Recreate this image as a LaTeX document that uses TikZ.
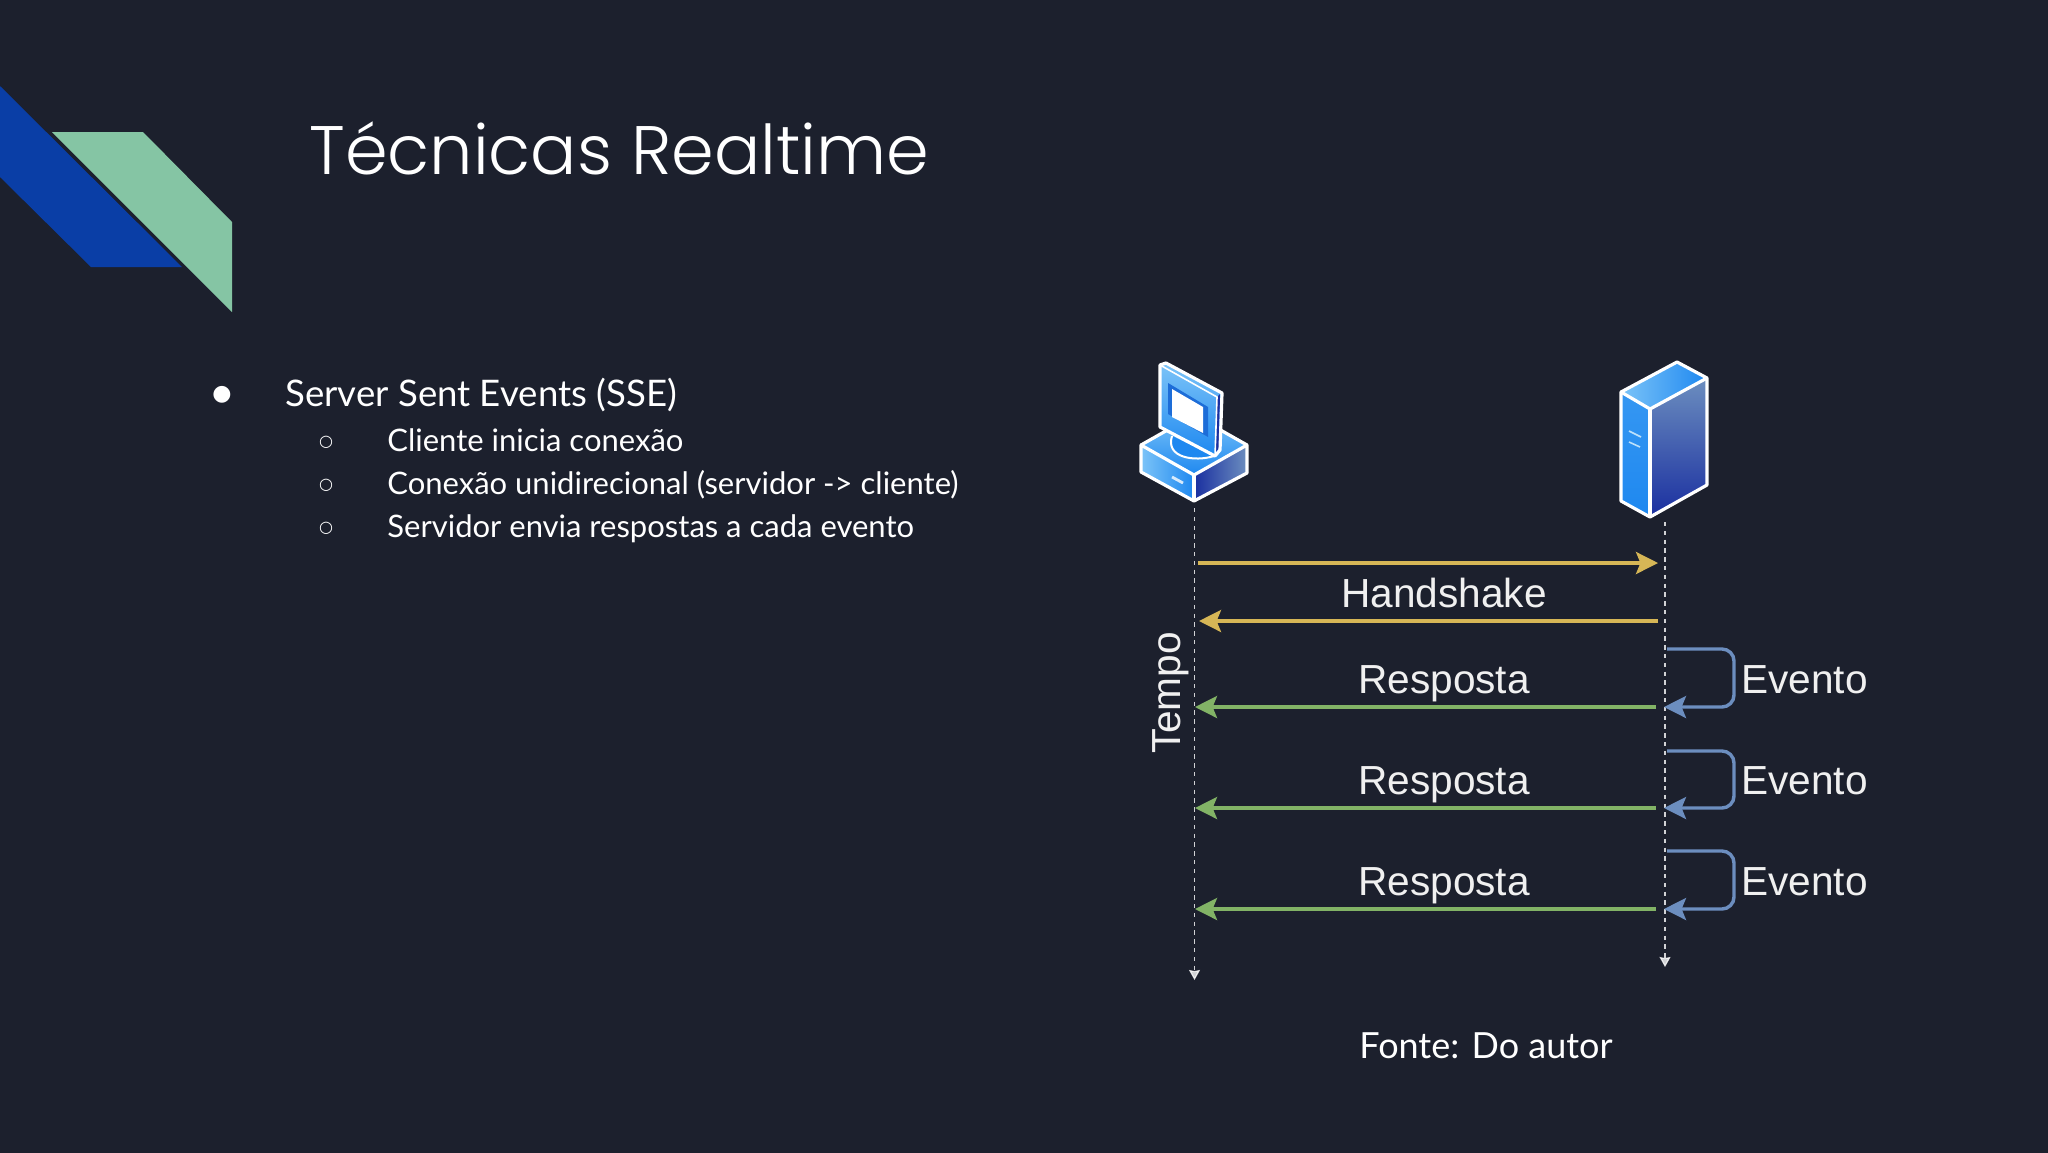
\documentclass[tikz,border=0pt]{standalone}
\usepackage{fontspec}
\setmainfont{Lato}
\newfontfamily\titlefont{Poppins Light}
\newfontfamily\diagfont{Liberation Sans}
\newfontfamily\symbfont{DejaVu Sans}
\usetikzlibrary{arrows.meta}
\definecolor{bgcol}{HTML}{1C202D}
\definecolor{ribbonblue}{HTML}{0A3EA6}
\definecolor{ribbongreen}{HTML}{85C5A4}
\definecolor{hsyellow}{HTML}{D6B656}
\definecolor{respgreen}{HTML}{82B366}
\definecolor{evblue}{HTML}{6C8EBF}
\definecolor{iconlight}{HTML}{7CC4F8}
\definecolor{iconmid}{HTML}{1E88F0}
\definecolor{icondark}{HTML}{1A2FA0}
\definecolor{labelcol}{HTML}{F0F0F0}
\tikzset{
  every node/.style={inner sep=0pt},
  headtext/.style={text=white,anchor=base west,font=\titlefont\fontsize{34.3}{34.3}\selectfont},
  bigtext/.style={text=white,anchor=base west,font=\fontsize{18.3}{18.3}\selectfont},
  subtext/.style={text=white,anchor=base west,font=\fontsize{15.5}{15.5}\selectfont},
  flowtext/.style={text=labelcol,anchor=base,font=\diagfont\fontsize{20.3}{20.3}\selectfont},
  lifeline/.style={white,opacity=0.8,line width=0.6pt,dash pattern=on 2.2pt off 2.2pt,-{Stealth[length=5pt,width=5.5pt,inset=0.5pt]}},
  hsline/.style={hsyellow,line width=1.7pt},
  respline/.style={respgreen,line width=1.7pt},
  evline/.style={evblue,line width=1.7pt,rounded corners=6pt},
  tipped/.style={-{Stealth[length=11pt,width=11pt,inset=2.2pt]}},
  iconedge/.style={draw=white,line width=1.6pt,line join=round}
}
\begin{document}
\begin{tikzpicture}[x=0.5pt,y=-0.5pt]
  \useasboundingbox (0,0) rectangle (2048,1152);
  \fill[bgcol] (-10,-10) rectangle (2058,1162);
  % ribbons
  \fill[ribbonblue] (0,86) -- (182,267) -- (91,267) -- (0,177) -- cycle;
  \fill[ribbongreen] (52,132) -- (143,132) -- (232,222) -- (232,312) -- cycle;
  % title
  \node[headtext] (title) at (309,174.5) {Técnicas Realtime};
  % bullets
  \node[anchor=center,text=white,font=\symbfont\fontsize{11}{11}\selectfont] (dota) at (222,395) {●};
  \node[bigtext] (sse) at (285,406) {Server Sent Events (SSE)};
  \node[anchor=center,text=white,font=\symbfont\fontsize{8}{8}\selectfont] (dotb) at (326,442) {○};
  \node[subtext] (cli) at (387,451.5) {Cliente inicia conexão};
  \node[anchor=center,text=white,font=\symbfont\fontsize{8}{8}\selectfont] (dotc) at (326,485) {○};
  \node[subtext] (con) at (387,494.5) {Conexão unidirecional (servidor -> cliente)};
  \node[anchor=center,text=white,font=\symbfont\fontsize{8}{8}\selectfont] (dotd) at (326,528) {○};
  \node[subtext] (srvtxt) at (387,537.5) {Servidor envia respostas a cada evento};
  % client icon, base
  \shade[top color=iconlight,bottom color=iconmid] (1141,445) -- (1194,415) -- (1247,445) -- (1194,475) -- cycle;
  \shade[left color=iconlight,right color=iconmid] (1141,445) -- (1194,475) -- (1194,501) -- (1141,472) -- cycle;
  \shade[left color=icondark,right color=evblue] (1194,475) -- (1247,445) -- (1247,473) -- (1194,501) -- cycle;
  \draw[iconedge] (1141,445) -- (1194,475) -- (1247,445) -- (1247,473) -- (1194,501) -- (1141,472) -- cycle;
  \draw[iconedge] (1194,475) -- (1194,501);
  \draw[iconedge] (1141,445) -- (1194,415) -- (1247,445);
  \draw[white,line width=1.4pt,opacity=0.8] (1172,477) -- (1183,483);
  % client icon, stand
  \fill[iconmid] (1172,436) .. controls (1165,458) and (1195,462) .. (1214,456) -- cycle;
  \draw[white,line width=1pt] (1172,436) .. controls (1165,458) and (1195,462) .. (1214,456);
  % client icon, monitor
  \shade[top color=iconlight,bottom color=iconmid] (1160,365) -- (1166,363) -- (1222,393) -- (1220,450) -- (1215,456) -- (1160,427) -- cycle;
  \fill[icondark] (1217,397) -- (1220,394) -- (1219,448) -- (1216,452) -- cycle;
  \draw[iconedge] (1160,365) -- (1166,363) -- (1222,393) -- (1220,450) -- (1215,456) -- (1160,427) -- cycle;
  \draw[white,line width=0.8pt] (1160,365) -- (1217,397) -- (1215,456);
  \fill[iconmid!70!icondark] (1168,383) -- (1208,407) -- (1208,437) -- (1168,414) -- cycle;
  \fill[white] (1172,389) -- (1203,407) -- (1203,433) -- (1172,417) -- cycle;
  % server icon
  \shade[left color=iconlight,right color=iconmid] (1621,392) -- (1677,362) -- (1707,378) -- (1650,409) -- cycle;
  \shade[top color=iconmid!75!iconlight,bottom color=iconmid] (1621,392) -- (1650,409) -- (1650,517) -- (1621,501) -- cycle;
  \shade[top color=evblue,bottom color=icondark] (1650,409) -- (1707,378) -- (1707,485) -- (1650,517) -- cycle;
  \draw[iconedge] (1621,392) -- (1677,362) -- (1707,378) -- (1707,485) -- (1650,517) -- (1621,501) -- cycle;
  \draw[iconedge] (1621,392) -- (1650,409) -- (1707,378);
  \draw[iconedge] (1650,409) -- (1650,517);
  \draw[iconlight!50!white,line width=0.8pt] (1629,431) -- (1641,437);
  \draw[iconlight!50!white,line width=0.8pt] (1629,442) -- (1640,447);
  % lifelines
  \coordinate (pctop) at (1194.5,508);
  \coordinate (pcend) at (1194.5,980);
  \coordinate (srvtop) at (1665,522);
  \coordinate (srvend) at (1665,967);
  \draw[lifeline] (pctop) -- (pcend);
  \draw[lifeline] (srvtop) -- (srvend);
  % handshake
  \coordinate (hsa) at (1198,563);
  \coordinate (hsb) at (1658,563);
  \coordinate (hsc) at (1658,621);
  \coordinate (hsd) at (1199,621);
  \draw[hsline,tipped] (hsa) -- (hsb);
  \draw[hsline,tipped] (hsc) -- (hsd);
  \node[flowtext] (hstxt) at (1444,607) {Handshake};
  % first event
  \coordinate (ea) at (1667,649);
  \coordinate (eb) at (1734,649);
  \coordinate (ec) at (1734,707);
  \coordinate (ed) at (1664,707);
  \draw[evline,tipped] (ea) -- (eb) -- (ec) -- (ed);
  \node[flowtext,anchor=base west] (evtxta) at (1741,693.5) {Evento};
  \coordinate (ra) at (1656,707);
  \coordinate (rb) at (1195,707);
  \draw[respline,tipped] (ra) -- (rb);
  \node[flowtext] (rtxta) at (1444,693.5) {Resposta};
  % second event
  \coordinate (ee) at (1667,751);
  \coordinate (ef) at (1734,751);
  \coordinate (eg) at (1734,808);
  \coordinate (eh) at (1664,808);
  \draw[evline,tipped] (ee) -- (ef) -- (eg) -- (eh);
  \node[flowtext,anchor=base west] (evtxtb) at (1741,794.5) {Evento};
  \coordinate (rc) at (1656,808);
  \coordinate (rd) at (1195,808);
  \draw[respline,tipped] (rc) -- (rd);
  \node[flowtext] (rtxtb) at (1444,794.5) {Resposta};
  % third event
  \coordinate (ei) at (1667,851);
  \coordinate (ej) at (1734,851);
  \coordinate (ek) at (1734,909);
  \coordinate (el) at (1664,909);
  \draw[evline,tipped] (ei) -- (ej) -- (ek) -- (el);
  \node[flowtext,anchor=base west] (evtxtc) at (1741,895.5) {Evento};
  \coordinate (re) at (1656,909);
  \coordinate (rf) at (1195,909);
  \draw[respline,tipped] (re) -- (rf);
  \node[flowtext] (rtxtc) at (1444,895.5) {Resposta};
  % time axis and source
  \node[flowtext,rotate=90] (tempo) at (1180,693) {Tempo};
  \node[bigtext,font=\fontsize{18}{18}\selectfont] (fonte) at (1359,1058) {Fonte: Do autor};
\end{tikzpicture}
\end{document}
